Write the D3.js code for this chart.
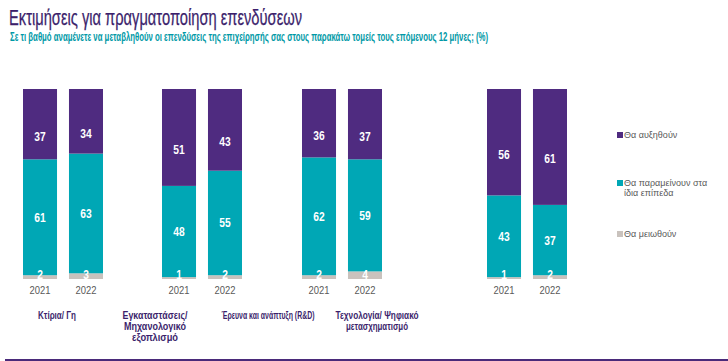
<!DOCTYPE html>
<html><head><meta charset="utf-8">
<script src="https://cdn.jsdelivr.net/npm/d3@7"></script>
<style>
body{margin:0;background:#fff;}
svg{display:block;}
text{font-family:"Liberation Sans",Arial,sans-serif;}
</style></head><body>
<svg id="c" width="728" height="361"></svg>
<script>
const categories = ["Κτίρια/ Γη", "Εγκαταστάσεις/ Μηχανολογικό εξοπλισμό", "Έρευνα και ανάπτυξη (R&D)", "Τεχνολογία/ Ψηφιακό μετασχηματισμό"];
const categoryLines = [["Κτίρια/ Γη"], ["Εγκαταστάσεις/", "Μηχανολογικό", "εξοπλισμό"], ["Έρευνα και ανάπτυξη (R&D)"], ["Τεχνολογία/ Ψηφιακό", "μετασχηματισμό"]];
const years = ["2021", "2022"];
const seriesNames = ["Θα μειωθούν", "Θα παραμείνουν στα ίδια επίπεδα", "Θα αυξηθούν"];
// values per category, per year
const decrease = [[2, 3], [1, 2], [2, 4], [1, 2]];
const same     = [[61, 63], [48, 55], [62, 59], [43, 37]];
const increase = [[37, 34], [51, 43], [36, 37], [56, 61]];
const title = "Εκτιμήσεις για πραγματοποίηση επενδύσεων";
const subtitle = "Σε τι βαθμό αναμένετε να μεταβληθούν οι επενδύσεις της επιχείρησής σας στους παρακάτω τομείς τους επόμενους 12 μήνες; (%)";

// layout/styling (not data)
const colors = {"Θα μειωθούν": "#c9c2bd", "Θα παραμείνουν στα ίδια επίπεδα": "#00a7b5", "Θα αυξηθούν": "#4f2b80"};
const labelWidths = [[38], [65, 62, 46], [93], [83, 62]];
const NARROW = 0.82;

const svg = d3.select("#c");
function narrow(sel, f) {
  sel.each(function() {
    const w = this.getComputedTextLength();
    d3.select(this).attr("textLength", w * (f || NARROW)).attr("lengthAdjust", "spacingAndGlyphs");
  });
}

// title
svg.append("text").attr("x", 9).attr("y", 25).attr("font-size", 22).attr("fill", "#3c1f6c")
  .attr("stroke", "#3c1f6c").attr("stroke-width", 0.25)
  .attr("textLength", 293).attr("lengthAdjust", "spacingAndGlyphs").text(title);
svg.append("text").attr("x", 10).attr("y", 41).attr("font-size", 12.5).attr("font-weight", "bold").attr("fill", "#0099a6")
  .attr("textLength", 478).attr("lengthAdjust", "spacingAndGlyphs").text(subtitle);

// scales
const xGroup = d3.scaleOrdinal().domain(categories).range([23, 162, 302, 487]);
const xYear = d3.scaleBand().domain(years).range([0, 80]).paddingInner(0.26);
const y = d3.scaleLinear().domain([0, 100]).range([279, 89]);
const labelX = d3.scaleOrdinal().domain(categories).range([57, 155, 268, 377]);

// build rows
const rows = [];
categories.forEach((c, i) => years.forEach((yr, j) => {
  rows.push({cat: c, year: yr, "Θα μειωθούν": decrease[i][j], "Θα παραμείνουν στα ίδια επίπεδα": same[i][j], "Θα αυξηθούν": increase[i][j]});
}));
const stack = d3.stack().keys(seriesNames)(rows);

const g = svg.append("g");
stack.forEach(layer => {
  const key = layer.key;
  g.selectAll(null).data(layer).enter().append("rect")
    .attr("x", d => xGroup(d.data.cat) + xYear(d.data.year))
    .attr("width", xYear.bandwidth())
    .attr("y", d => y(d[1]))
    .attr("height", d => y(d[0]) - y(d[1]))
    .attr("fill", colors[key]);
});
stack.forEach(layer => {
  const key = layer.key;
  const t = g.selectAll(null).data(layer).enter().append("text")
    .attr("x", d => xGroup(d.data.cat) + xYear(d.data.year) + xYear.bandwidth() / 2)
    .attr("y", d => {
      const mid = (y(d[0]) + y(d[1])) / 2;
      if (key === "Θα αυξηθούν") return mid + 12;
      if (key === "Θα μειωθούν") return y(d[0]) - 4.5;
      return mid;
    })
    .attr("dy", "0.36em")
    .attr("text-anchor", "middle").attr("font-size", 12.5).attr("font-weight", "bold").attr("fill", "#fff")
    .text(d => d.data[key]);
  narrow(t);
});

// year labels
rows.forEach(r => {
  const t = svg.append("text")
    .attr("x", xGroup(r.cat) + xYear(r.year) + xYear.bandwidth() / 2)
    .attr("y", 294).attr("text-anchor", "middle").attr("font-size", 11.5).attr("fill", "#595959")
    .text(r.year);
  narrow(t);
});

// category labels (compressed to the reference's narrow type)
categories.forEach((c, i) => {
  categoryLines[i].forEach((line, k) => {
    svg.append("text").attr("x", labelX(c)).attr("y", 319 + k * 11)
      .attr("text-anchor", "middle").attr("font-size", 11.5).attr("font-weight", "bold").attr("fill", "#3c1f6c")
      .attr("textLength", labelWidths[i][k]).attr("lengthAdjust", "spacingAndGlyphs")
      .text(line);
  });
});

// legend
const legendItems = [
  {name: "Θα αυξηθούν", lines: ["Θα αυξηθούν"], y: 135},
  {name: "Θα παραμείνουν στα ίδια επίπεδα", lines: ["Θα παραμείνουν στα", "ίδια επίπεδα"], y: 183},
  {name: "Θα μειωθούν", lines: ["Θα μειωθούν"], y: 234}
];
legendItems.forEach(it => {
  svg.append("rect").attr("x", 617).attr("y", it.y - 3).attr("width", 6).attr("height", 6).attr("fill", colors[it.name]);
  it.lines.forEach((l, k) => {
    svg.append("text").attr("x", 624).attr("y", it.y + 3 + k * 10).attr("font-size", 9).attr("fill", "#595959").text(l);
  });
});

// bottom rule
svg.append("line").attr("x1", 5).attr("x2", 728).attr("y1", 360).attr("y2", 360)
  .attr("stroke", "#4a2a7a").attr("stroke-width", 2);
</script>
</body></html>
